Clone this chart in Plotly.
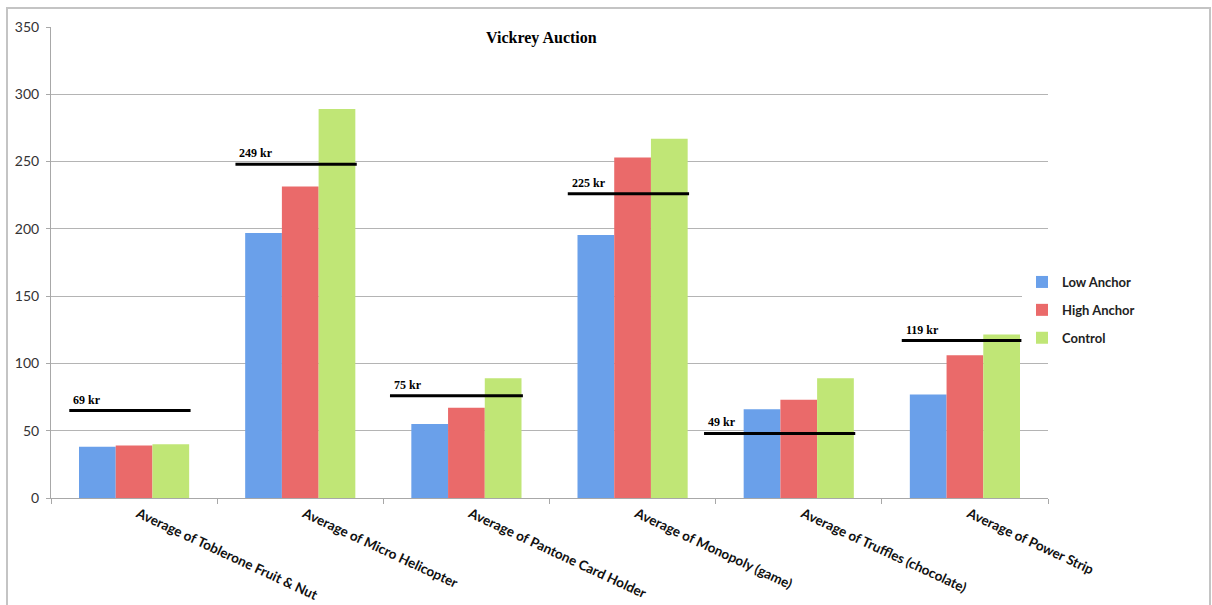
import plotly.graph_objects as go

categories = [
    "Average of Toblerone Fruit & Nut",
    "Average of Micro Helicopter",
    "Average of Pantone Card Holder",
    "Average of Monopoly (game)",
    "Average of Truffles (chocolate)",
    "Average of Power Strip",
]
low_anchor = [38, 197, 55, 195.5, 66, 77]
high_anchor = [39, 231.5, 67, 253, 73, 106]
control = [40, 289, 89, 267, 89, 121.5]

ref_price_labels = ["69 kr", "249 kr", "75 kr", "225 kr", "49 kr", "119 kr"]
ref_line_level = [65, 248, 76, 226, 48, 117]

y_ticks = [0, 50, 100, 150, 200, 250, 300, 350]

# layout-only helpers (offsets of the reference lines relative to category centre)
line_left_off = [-0.39, -0.39, -0.46, -0.39, -0.57, -0.38]
line_right_off = 0.34

x_idx = list(range(len(categories)))

fig = go.Figure()
series = [
    ("Low Anchor", low_anchor, "#6aa0ea"),
    ("High Anchor", high_anchor, "#ea6a6a"),
    ("Control", control, "#c0e676"),
]
for i, (name, vals, col) in enumerate(series):
    fig.add_trace(go.Bar(
        x=x_idx, y=vals, name="<b>%s</b>" % name,
        marker=dict(color=col, line=dict(width=0)),
        legendgroup=name,
    ))

for i, lvl in enumerate(ref_line_level):
    fig.add_trace(go.Scatter(
        x=[i + line_left_off[i], i + line_right_off], y=[lvl, lvl],
        mode="lines", line=dict(color="black", width=3),
        showlegend=False, hoverinfo="skip",
    ))
    fig.add_annotation(
        x=i + line_left_off[i], y=lvl, text="<b>%s</b>" % ref_price_labels[i],
        xref="x", yref="y", xanchor="left", yanchor="bottom", showarrow=False,
        xshift=2, yshift=2,
        font=dict(family="Liberation Serif", size=12, color="black"),
    )

L, R, T, B = 51, 164, 27, 107
W, H = 1212, 605
pw = W - L - R
ph = H - T - B

def px_x(p):
    return (p - L) / pw

def px_y(p):
    return (H - B - p) / ph

fig.add_annotation(
    x=px_x(541), y=px_y(38), xref="paper", yref="paper", showarrow=False,
    text="<b>Vickrey Auction</b>", xanchor="center", yanchor="middle",
    font=dict(family="Liberation Serif", size=16, color="black"),
)

fig.add_shape(
    type="rect", xref="paper", yref="paper",
    x0=px_x(7), x1=px_x(1210), y0=px_y(640), y1=px_y(8),
    line=dict(color="#c4c4c4", width=2), layer="below",
)

fig.update_layout(
    width=W, height=H,
    margin=dict(l=L, r=R, t=T, b=B, autoexpand=False),
    paper_bgcolor="white", plot_bgcolor="white",
    barmode="group", bargap=0.337, bargroupgap=0,
    showlegend=True,
    legend=dict(
        x=px_x(1022), xanchor="left", y=px_y(310), yanchor="middle",
        font=dict(family="Lato", size=13, color="#222"),
        traceorder="grouped", tracegroupgap=8,
        itemwidth=30,
    ),
    font=dict(family="Lato"),
)
fig.update_xaxes(
    automargin=False,
    range=[-0.5, 5.5], tickmode="array", tickvals=x_idx,
    ticktext=["<b>%s</b>" % c for c in categories],
    tickangle=25, ticks="", showgrid=False, zeroline=False,
    showline=True, linecolor="#a8a8a8", linewidth=1,
    ticklabelshift=4, ticklabelstandoff=2,
    tickfont=dict(family="Lato", size=13.5, color="#111"),
    minor=dict(tickmode="array", tickvals=[k - 0.5 for k in range(7)],
               ticks="outside", ticklen=5, tickcolor="#a8a8a8", showgrid=False),
)
fig.update_yaxes(
    automargin=False,
    range=[0, 350], tickmode="array", tickvals=y_ticks,
    showgrid=True, gridcolor="#b4b4b4", gridwidth=1,
    zeroline=False, showline=True, linecolor="#a8a8a8", linewidth=1,
    ticks="outside", ticklen=4, tickcolor="#a8a8a8",
    ticklabelstandoff=4,
    tickfont=dict(family="Lato", size=14, color="#333"),
)

fig.write_html("out.html")
